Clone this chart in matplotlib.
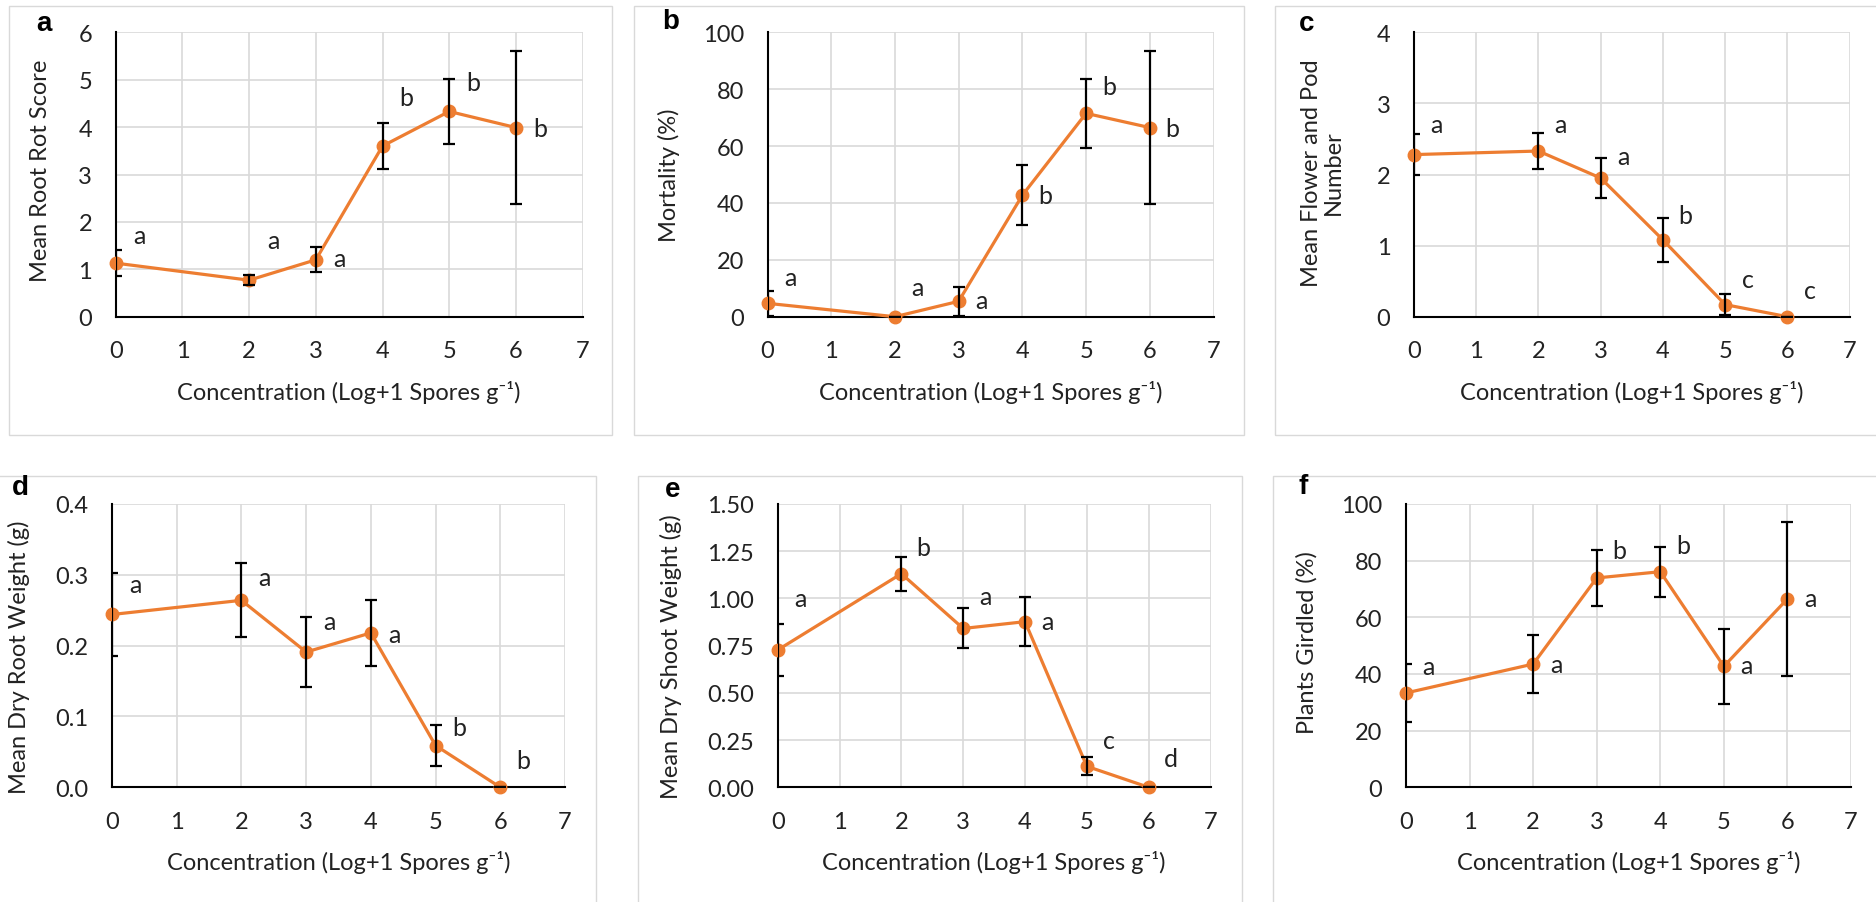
"""
Disease severity / plant growth vs inoculum concentration, six panel figure
"""

import numpy as np
import matplotlib
matplotlib.use("Agg")
import matplotlib.pyplot as plt
from matplotlib.patches import Rectangle

plt.rcParams['font.family'] = ['Lato', 'DejaVu Sans']

# concentration levels (Log+1 spores per g)
conc = [0, 2, 3, 4, 5, 6]

root_rot = [1.13, 0.77, 1.20, 3.60, 4.33, 3.99]
root_rot_err = [0.28, 0.10, 0.26, 0.49, 0.69, 1.62]
root_rot_grp = ['a', 'a', 'a', 'b', 'b', 'b']

mortality = [4.7, 0.0, 5.4, 42.7, 71.5, 66.5]
mortality_err = [4.5, 0.0, 5.0, 10.5, 12.1, 27.0]
mortality_grp = ['a', 'a', 'a', 'b', 'b', 'b']

flower_pod = [2.28, 2.33, 1.95, 1.08, 0.17, 0.0]
flower_pod_err = [0.29, 0.25, 0.28, 0.31, 0.15, 0.0]
flower_pod_grp = ['a', 'a', 'a', 'b', 'c', 'c']

root_wt = [0.244, 0.264, 0.191, 0.218, 0.059, 0.0]
root_wt_err = [0.059, 0.052, 0.049, 0.047, 0.029, 0.0]
root_wt_grp = ['a', 'a', 'a', 'a', 'b', 'b']

shoot_wt = [0.727, 1.131, 0.841, 0.877, 0.111, 0.0]
shoot_wt_err = [0.14, 0.09, 0.106, 0.13, 0.048, 0.0]
shoot_wt_grp = ['a', 'b', 'a', 'a', 'c', 'd']

girdled = [33.3, 43.5, 73.9, 76.1, 42.7, 66.5]
girdled_err = [10.2, 10.3, 10.0, 8.8, 13.3, 27.3]
girdled_grp = ['a', 'a', 'b', 'b', 'a', 'a']

W, H = 1876, 903
ORANGE = '#ED7D31'
GRID = '#D9D9D9'
TXT = '#222222'

fig = plt.figure(figsize=(W / 100, H / 100), dpi=100)
fig.patch.set_facecolor('white')


def px_axes(l, t, r, b):
    return fig.add_axes([l / W, 1 - b / H, (r - l) / W, (b - t) / H])


def panel_box(l, t, r, b):
    fig.patches.append(Rectangle((l / W, 1 - b / H), (r - l) / W, (b - t) / H,
                                 transform=fig.transFigure, fill=False,
                                 edgecolor=GRID, linewidth=1.0))


def draw_panel(box, y, yerr, grp, ylim, yticks, yfmt, lab_dy, ylabel, ylab_xy, tag, tag_xy):
    l, t, r, b = box
    ax = px_axes(l, t, r, b)
    ax.plot(conc, y, color=ORANGE, lw=2.3, marker='o', ms=9, zorder=3, clip_on=False)
    ax.errorbar(conc, y, yerr=yerr, fmt='none', ecolor='black', elinewidth=1.6,
                capsize=4.5, capthick=1.6, zorder=4)
    for xi, yi, g, dy in zip(conc, y, grp, lab_dy):
        ax.text(xi + 0.36, yi + dy, g, ha='center', va='center', fontsize=18,
                color=TXT, zorder=5)
    ax.set_xlim(0, 7)
    ax.set_ylim(*ylim)
    ax.set_xticks(range(8))
    ax.set_yticks(yticks)
    ax.set_yticklabels([yfmt.format(v) for v in yticks])
    ax.grid(True, color=GRID, lw=1.2)
    ax.set_axisbelow(True)
    for s in ['top', 'right']:
        ax.spines[s].set_visible(False)
    for s in ['left', 'bottom']:
        ax.spines[s].set_color('black')
        ax.spines[s].set_linewidth(1.5)
        ax.spines[s].set_zorder(2.5)
    ax.tick_params(length=0, pad=17, labelsize=17, colors=TXT)
    cx = (l + r) / 2
    xl_y = 393 if b < 450 else 863
    fig.text(cx / W, 1 - xl_y / H, 'Concentration (Log+1 Spores g\u207b\u00b9)',
             ha='center', va='center', fontsize=17, color=TXT)
    fig.text(ylab_xy[0] / W, 1 - ylab_xy[1] / H, ylabel, rotation=90, ha='center',
             va='center', fontsize=17, color=TXT, linespacing=1.05)
    fig.text(tag_xy[0] / W, 1 - tag_xy[1] / H, tag, ha='center', va='center',
             fontsize=20, fontweight='bold', family='Liberation Sans')
    return ax


# outer chart frames
panel_box(9, 7, 612, 436)
panel_box(634, 7, 1244, 436)
panel_box(1275, 7, 1880, 436)
panel_box(-5, 477, 596, 910)
panel_box(638, 477, 1242, 910)
panel_box(1273, 477, 1880, 910)

draw_panel((115.7, 33.3, 582.6, 317.7), root_rot, root_rot_err, root_rot_grp,
           (0, 6), range(0, 7), '{:d}', [0.58, 0.83, 0.02, 1.03, 0.61, -0.02],
           'Mean Root Rot Score', (41, 171), 'a', (44, 24))

draw_panel((767.5, 33.3, 1213.5, 317.7), mortality, mortality_err, mortality_grp,
           (0, 100), range(0, 101, 20), '{:d}', [9.1, 10.3, 0.2, -0.1, 9.5, -0.5],
           'Mortality (%)', (669, 175), 'b', (671, 22))

draw_panel((1414, 33.3, 1849.6, 317.7), flower_pod, flower_pod_err, flower_pod_grp,
           (0, 4), range(0, 5), '{:d}', [0.42, 0.37, 0.31, 0.34, 0.36, 0.37],
           'Mean Flower and Pod\nNumber', (1322, 173), 'c', (1307, 24))

draw_panel((112, 505, 565, 788.3), root_wt, root_wt_err, root_wt_grp,
           (0, 0.4), [0, 0.1, 0.2, 0.3, 0.4], '{:.1f}', [0.043, 0.032, 0.043, -0.002, 0.026, 0.038],
           'Mean Dry Root Weight (g)', (19, 657), 'd', (20, 488))

draw_panel((777.7, 505, 1210.5, 788.3), shoot_wt, shoot_wt_err, shoot_wt_grp,
           (0, 1.5), [0, 0.25, 0.5, 0.75, 1.0, 1.25, 1.5], '{:.2f}',
           [0.273, 0.139, 0.169, 0.003, 0.139, 0.15],
           'Mean Dry Shoot Weight (g)', (671, 657), 'e', (673, 490))

draw_panel((1406, 505, 1851, 788.3), girdled, girdled_err, girdled_grp,
           (0, 100), range(0, 101, 20), '{:d}', [9.5, 0.0, 9.6, 9.2, 0.2, 0.1],
           'Plants Girdled (%)', (1307, 643), 'f', (1303, 487))

fig.savefig('out.png', dpi=100)
